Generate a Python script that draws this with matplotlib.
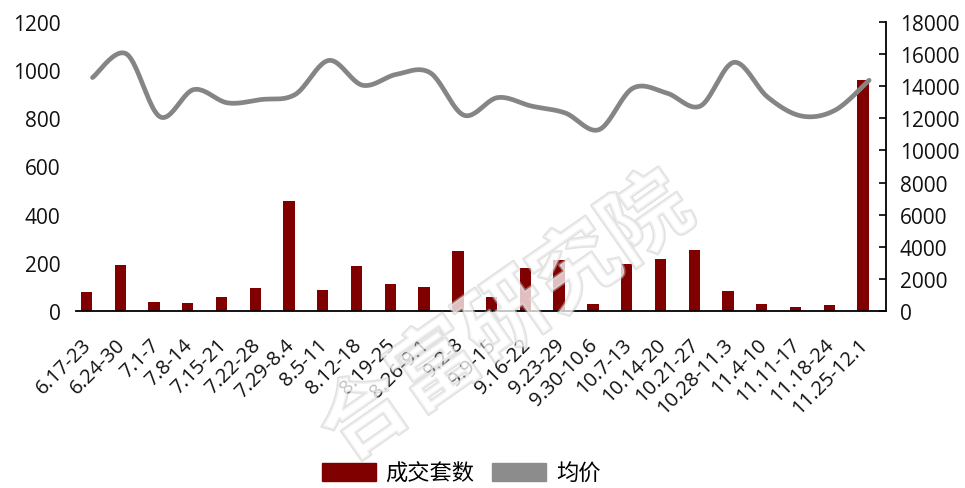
import numpy as np
import matplotlib
matplotlib.use("Agg")
import matplotlib.pyplot as plt
import matplotlib.transforms as mtransforms
import matplotlib.patheffects as pe
from matplotlib.patches import Patch

plt.rcParams['font.family'] = ['Open Sans', 'Noto Sans CJK SC', 'DejaVu Sans']

weeks = ["6.17-23", "6.24-30", "7.1-7", "7.8-14", "7.15-21", "7.22-28", "7.29-8.4",
         "8.5-11", "8.12-18", "8.19-25", "8.26-9.1", "9.2-8", "9.9-15", "9.16-22",
         "9.23-29", "9.30-10.6", "10.7-13", "10.14-20", "10.21-27", "10.28-11.3",
         "11.4-10", "11.11-17", "11.18-24", "11.25-12.1"]

# 成交套数 (left axis)
deals = [76, 189, 37, 30, 55, 95, 457, 87, 186, 109, 99, 247,
         58, 178, 211, 26, 193, 214, 254, 83, 29, 14, 22, 961]

# 均价 (right axis)
avg_price = [14550, 16030, 12100, 13800, 12970, 13180, 13490, 15620, 14070, 14750, 14850, 12200,
             13300, 12770, 12340, 11300, 13880, 13590, 12770, 15500, 13320, 12150, 12520, 14380]

bar_color = '#800000'
line_color = '#858585'


def smooth_curve(xs, ys, steps=24):
    # catmull-rom through the points, roughly like excel's smoothed line
    xs = np.asarray(xs, float)
    ys = np.asarray(ys, float)
    px = np.concatenate([[xs[0]], xs, [xs[-1]]])
    py = np.concatenate([[ys[0]], ys, [ys[-1]]])
    out_x, out_y = [], []
    t = np.linspace(0, 1, steps, endpoint=False)
    for i in range(1, len(px) - 2):
        for arr, res in ((px, out_x), (py, out_y)):
            p0, p1, p2, p3 = arr[i - 1], arr[i], arr[i + 1], arr[i + 2]
            res.extend(0.5 * (2 * p1 + (-p0 + p2) * t
                              + (2 * p0 - 5 * p1 + 4 * p2 - p3) * t ** 2
                              + (-p0 + 3 * p1 - 3 * p2 + p3) * t ** 3))
    out_x.append(xs[-1])
    out_y.append(ys[-1])
    return np.array(out_x), np.array(out_y)


fig = plt.figure(figsize=(9.65, 4.89), dpi=100)
ax = fig.add_axes([0.0784, 0.3626, 0.8397, 0.5898])
ax2 = ax.twinx()

x = np.arange(len(weeks))
ax.bar(x - 0.18, deals, width=0.335, color=bar_color, zorder=2)
ax.set_ylim(0, 1200)
ax.set_yticks(range(0, 1201, 200))
ax.set_xlim(-0.5, len(weeks) - 0.5)

sx, sy = smooth_curve(x, avg_price)
ax2.plot(sx, sy, color=line_color, lw=3.4, solid_capstyle='round', zorder=3)
ax2.set_ylim(0, 18000)
ax2.set_yticks(range(0, 18001, 2000))

for a in (ax, ax2):
    a.spines['top'].set_visible(False)
    a.spines['left'].set_visible(False)
    a.spines['bottom'].set_linewidth(1.3)
    a.set_facecolor('none')
ax.spines['right'].set_visible(False)
ax2.spines['right'].set_linewidth(1.3)
ax2.spines['bottom'].set_visible(False)

ax.tick_params(axis='y', length=0, pad=11, labelsize=15, labelcolor='#111111')
ax2.tick_params(axis='y', direction='in', length=5, width=1.2, pad=10,
                labelsize=15, labelcolor='#111111')
ax.tick_params(axis='x', length=0, pad=22)

ax.set_xticks(x)
ax.set_xticklabels(weeks, rotation=45, ha='right', va='center',
                   rotation_mode='anchor', fontsize=14.5, color='#111111')
shift = mtransforms.ScaledTranslation(-4 / 100, 0, fig.dpi_scale_trans)
for lab in ax.get_xticklabels():
    lab.set_transform(lab.get_transform() + shift)

# watermark
fig.text(0.525, 0.345, "合富研究院", fontsize=62, fontweight='bold',
         family=['Noto Sans CJK SC'], rotation=35, ha='center', va='center',
         color='white', alpha=0.5, zorder=10,
         path_effects=[pe.withStroke(linewidth=2.2, foreground='#c4c4c4')])

handles = [Patch(color=bar_color, label='成交套数'),
           Patch(color='#8c8c8c', label='均价')]
fig.legend(handles=handles, loc='center', bbox_to_anchor=(0.478, 0.03),
           ncol=2, frameon=False, prop={'family': ['Noto Sans CJK SC'], 'size': 16},
           handlelength=2.4, handleheight=0.9, handletextpad=0.45, columnspacing=0.8)

fig.savefig("out.png", dpi=100)
